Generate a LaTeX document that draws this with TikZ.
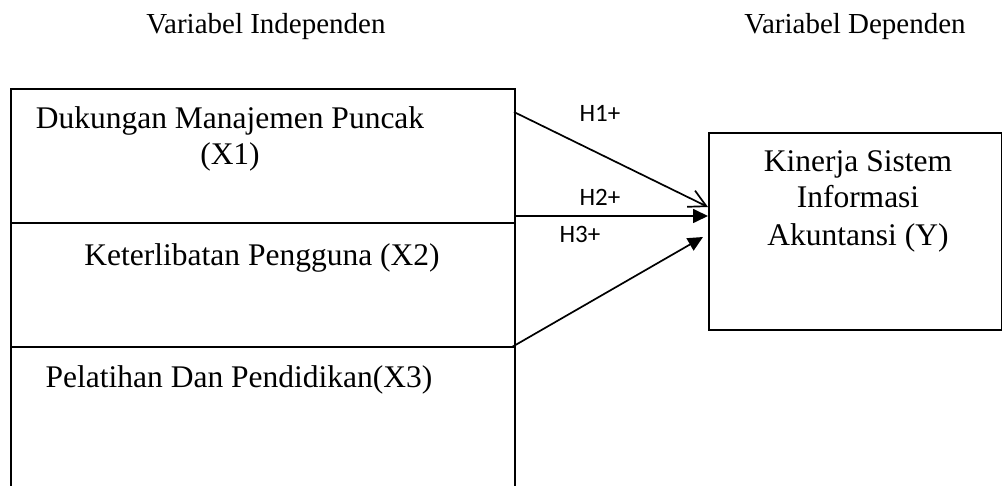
\documentclass[tikz,border=0pt]{standalone}
\usepackage{fontspec}
\setmainfont{Liberation Serif}
\newfontfamily\lblfont{Carlito}
\usetikzlibrary{arrows.meta}
\begin{document}
\begin{tikzpicture}[x=1pt,y=-1pt,
  boxst/.style={draw,line width=2pt,inner sep=0pt,anchor=north west},
  headst/.style={anchor=base,inner sep=0pt,font=\fontsize{29}{34}\selectfont},
  txtst/.style={anchor=base,inner sep=0pt,font=\fontsize{31.5}{36}\selectfont},
  hlab/.style={anchor=base,inner sep=0pt,font=\lblfont\fontsize{25}{30}\selectfont},
  conn/.style={line width=1.7pt},
  openarrow/.style={conn,-{Straight Barb[length=17pt,width=18pt,line width=1.7pt]}},
  fillarrow/.style={conn,-{Triangle[length=15pt,width=14pt]}}]
\useasboundingbox (0,0) rectangle (1002,486);
\clip (0,0) rectangle (1002,486);
% headers
\node[headst] (h1) at (266,34) {Variabel Independen};
\node[headst] (h2) at (855,34) {Variabel Dependen};
% left boxes
\node[boxst,minimum width=504pt,minimum height=134pt] (b1) at (10,88) {};
\node[boxst,minimum width=504pt,minimum height=124pt] (b2) at (10,222) {};
\node[boxst,minimum width=504pt,minimum height=160pt] (b3) at (10,346) {};
% right box
\node[boxst,minimum width=293pt,minimum height=197pt] (y) at (708,132) {};
% texts
\node[txtst] (t1a) at (230,129) {Dukungan Manajemen Puncak};
\node[txtst] (t1b) at (230,165) {(X1)};
\node[txtst] (t2) at (262,266) {Keterlibatan Pengguna (X2)};
\node[txtst] (t3) at (239,388) {Pelatihan Dan Pendidikan(X3)};
\node[txtst] (ty1) at (858,172) {Kinerja Sistem};
\node[txtst] (ty2) at (858,208) {Informasi};
\node[txtst] (ty3) at (858,246) {Akuntansi (Y)};
% connector ends
\coordinate (s1) at (514,112);
\coordinate (s2) at (514,216);
\coordinate (s3) at (512,347);
\coordinate (e1) at (708,207);
\coordinate (e2) at (708,216);
\coordinate (e3) at (703,237);
\draw[openarrow] (s1) -- (e1);
\draw[fillarrow] (s2) -- (e2);
\draw[fillarrow] (s3) -- (e3);
% labels
\node[hlab] (l1) at (600,122) {H1+};
\node[hlab] (l2) at (600,206) {H2+};
\node[hlab] (l3) at (580,243) {H3+};
\end{tikzpicture}
\end{document}
